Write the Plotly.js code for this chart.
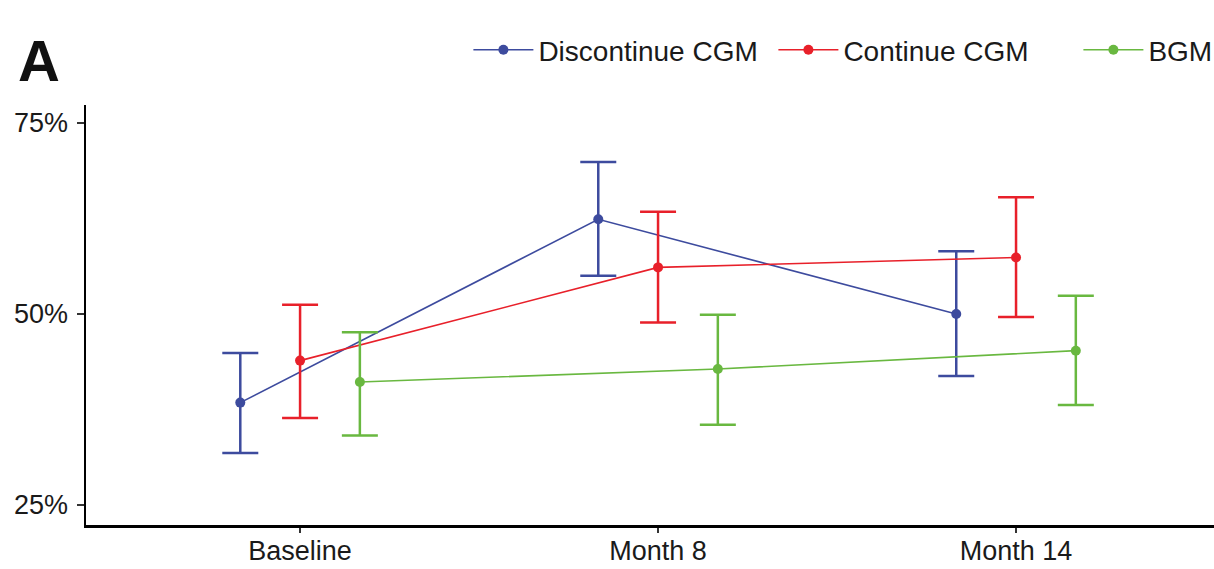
<!DOCTYPE html>
<html>
<head>
<meta charset="utf-8">
<script src="https://cdn.plot.ly/plotly-3.0.1.min.js"></script>
<style>html,body{margin:0;padding:0;background:#fff;}#chart{width:1214px;height:569px;}</style>
</head>
<body>
<div id="chart"></div>
<script>
const categories = ["Baseline", "Month 8", "Month 14"];
const seriesNames = ["Discontinue CGM", "Continue CGM", "BGM"];

const discontinueMean  = [38.4, 62.4, 50.0];
const discontinueUpper = [44.9, 69.9, 58.2];
const discontinueLower = [31.8, 55.0, 41.9];

const continueMean  = [43.9, 56.1, 57.4];
const continueUpper = [51.2, 63.4, 65.3];
const continueLower = [36.4, 48.9, 49.6];

const bgmMean  = [41.1, 42.8, 45.2];
const bgmUpper = [47.6, 49.9, 52.4];
const bgmLower = [34.1, 35.5, 38.1];

const yTicks = [25, 50, 75];

const colors = ["#3d4b9e", "#e8202a", "#69b840"];
const dodge = [-0.167, 0, 0.167];

const seriesData = [
  [discontinueMean, discontinueUpper, discontinueLower],
  [continueMean, continueUpper, continueLower],
  [bgmMean, bgmUpper, bgmLower]
];

const traces = seriesData.map((s, k) => {
  const [mean, up, lo] = s;
  return {
    type: "scatter",
    mode: "lines+markers",
    name: seriesNames[k],
    x: categories.map((c, i) => i + dodge[k]),
    y: mean,
    line: {color: colors[k], width: 1.6},
    marker: {color: colors[k], size: 10},
    error_y: {
      type: "data", symmetric: false,
      array: up.map((u, i) => u - mean[i]),
      arrayminus: lo.map((l, i) => mean[i] - l),
      color: colors[k], thickness: 2.5, width: 18
    },
    hoverinfo: "x+y"
  };
});

const font = "Liberation Sans, Arial, Helvetica, sans-serif";

const layout = {
  width: 1214, height: 569,
  margin: {l: 86, r: 0, t: 105, b: 44, autoexpand: false},
  paper_bgcolor: "#fff", plot_bgcolor: "#fff",
  showlegend: true,
  legend: {
    orientation: "h", x: 0.339, xanchor: "left", y: 1.131, yanchor: "middle",
    font: {family: font, size: 28, color: "#1a1a1a"},
    traceorder: "normal", itemwidth: 60, entrywidth: 230
  },
  xaxis: {
    range: [-0.598, 2.553],
    tickmode: "array", tickvals: categories.map((c, i) => i), ticktext: categories,
    showgrid: false, zeroline: false,
    showline: true, linecolor: "#000", linewidth: 2.5,
    ticks: "outside", ticklen: 5, tickwidth: 1.5, tickcolor: "#333",
    ticklabelstandoff: -5,
    tickfont: {family: font, size: 27, color: "#1a1a1a"}
  },
  yaxis: {
    range: [22.38, 77.36],
    tickmode: "array", tickvals: yTicks, ticktext: yTicks.map(v => v + "%"),
    showgrid: false, zeroline: false,
    showline: true, linecolor: "#000", linewidth: 2.5,
    ticks: "outside", ticklen: 7, tickwidth: 1.5, tickcolor: "#333",
    ticklabelstandoff: 3,
    tickfont: {family: font, size: 27, color: "#1a1a1a"}
  },
  annotations: [{
    text: "<b>A</b>", xref: "paper", yref: "paper",
    x: -0.062, y: 1.105, xanchor: "left", yanchor: "middle",
    showarrow: false, font: {family: font, size: 58, color: "#111"}
  }]
};

Plotly.newPlot("chart", traces, layout, {displayModeBar: false, staticPlot: true});
</script>
</body>
</html>
